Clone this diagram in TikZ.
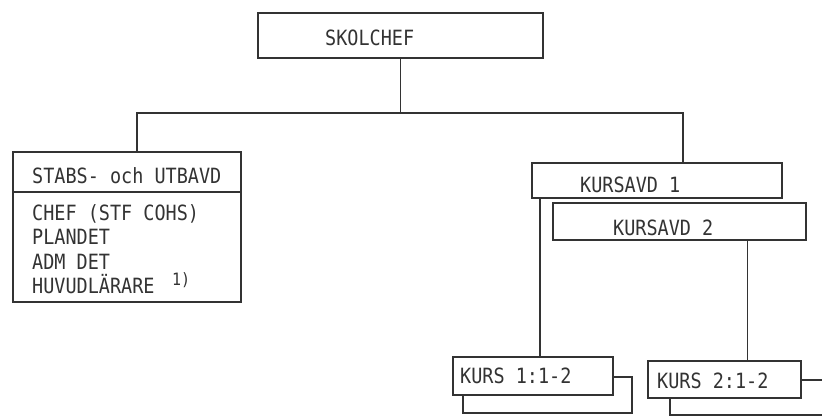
\documentclass[tikz,border=0pt]{standalone}
\usepackage{fontspec}
\newfontfamily\orgfont[FakeStretch=0.88]{DejaVu Sans Mono}
\usetikzlibrary{fit}
\tikzstyle{unit box}=[draw=black!80, fill=white, line width=1.3pt, inner sep=0]
\tikzstyle{unit label}=[anchor=base west, inner sep=0, text=black!80, font=\orgfont\fontsize{21}{24}\selectfont]
\tikzstyle{small label}=[unit label, font=\orgfont\fontsize{17}{20}\selectfont]
\tikzstyle{link}=[draw=black!80, line width=1.3pt]

\begin{document}
\begin{tikzpicture}[x=1pt, y=-1pt]
      \useasboundingbox (0, 0) rectangle (822, 417);
      \clip (0, 0) rectangle (822, 417);

      \node[unit box, minimum width=285, minimum height=45] (skolchef) at (400.5, 35.5) {};
      \node[unit label] (skolchef_text) at (325, 46) {SKOLCHEF};

      \node[unit box, minimum width=228, minimum height=150] (stabs) at (127, 227) {};
      \draw[link] (stabs.west |- 0, 192) -- (stabs.east |- 0, 192);
      \node[unit label] (stabs_text) at (32, 183) {STABS- och UTBAVD};
      \node[unit label] (chef_text) at (32, 220) {CHEF (STF COHS)};
      \node[unit label] (plan_text) at (32, 244) {PLANDET};
      \node[unit label] (adm_text) at (32, 269) {ADM DET};
      \node[unit label] (huvud_text) at (32, 293) {HUVUDLÄRARE};
      \node[small label] (note_text) at (172, 285) {1)};

      \node[unit box, minimum width=253, minimum height=37] (kursavd_2) at (679.5, 221.5) {};
      \node[unit box, minimum width=250, minimum height=35] (kursavd_1) at (657, 180.5) {};
      \node[unit label] (kursavd_1_text) at (580, 193) {KURSAVD 1};
      \node[unit label] (kursavd_2_text) at (613, 235) {KURSAVD 2};

      \node[unit box, minimum width=169, minimum height=36] (kurs_1_back) at (547.5, 395) {};
      \node[unit box, minimum width=160, minimum height=38] (kurs_1) at (533, 376) {};
      \node[unit label] (kurs_1_text) at (460, 383) {KURS 1:1-2};

      \node[unit box, minimum width=165, minimum height=35] (kurs_2_back) at (752.5, 397.5) {};
      \node[unit box, minimum width=153, minimum height=37] (kurs_2) at (724.5, 379.5) {};
      \node[unit label] (kurs_2_text) at (657, 388) {KURS 2:1-2};

      \coordinate (bus_left) at (137, 113);
      \coordinate (bus_right) at (683, 113);

      \draw[link] (skolchef.south) to (skolchef.south |- bus_left);
      \draw[link] (bus_left |- stabs.north)
        to (bus_left)
        to (bus_right)
        to (bus_right |- kursavd_1.north);
      \draw[link] ([xshift=7]kurs_1.north) to ([xshift=7]kurs_1.north |- kursavd_1.south);
      \draw[link] ([xshift=23]kurs_2.north) to ([xshift=23]kurs_2.north |- kursavd_2.south);
    \end{tikzpicture}
\end{document}
